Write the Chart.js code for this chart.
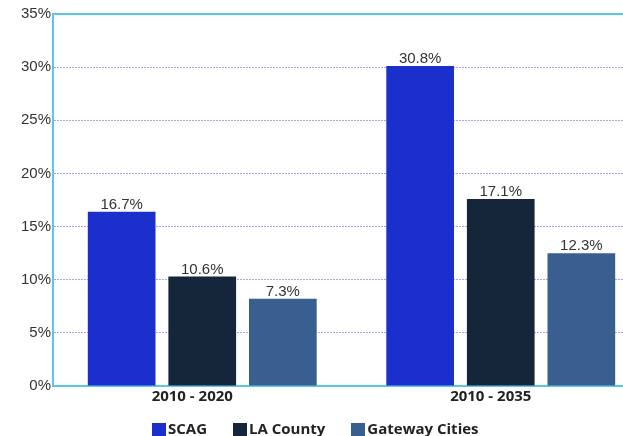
<!DOCTYPE html>
<html>
<head>
<meta charset="utf-8">
<script src="https://cdn.jsdelivr.net/npm/chart.js@4"></script>
<style>
  html, body { margin: 0; padding: 0; background: #fff; overflow: hidden; }
  #wrap { position: relative; width: 623px; height: 436px; overflow: hidden; }
  #box { position: absolute; left: 0; top: 0; width: 650px; height: 436px; }
  #legend { position: absolute; left: 152px; top: 420px; display: flex; gap: 26px;
            font: bold 15px "Open Sans"; line-height: 16px; color: #222; }
  .item { display: flex; align-items: flex-start; }
  .sw { width: 14px; height: 14px; margin: 3px 2px 0 0; }
</style>
</head>
<body>
<div id="wrap">
  <div id="box"><canvas id="chart"></canvas></div>
  <div id="legend"></div>
</div>
<script>
// categories and series
var periods = ['2010 - 2020', '2010 - 2035']
var seriesNames = ['SCAG', 'LA County', 'Gateway Cities']
var seriesColors = ['#1b2fcc', '#15263b', '#385f90']
// bar heights as drawn (%)
var scag = [16.4, 30.1]
var laCounty = [10.3, 17.6]
var gateway = [8.2, 12.5]
// printed labels above the bars
var scagText = ['16.7%', '30.8%']
var laCountyText = ['10.6%', '17.1%']
var gatewayText = ['7.3%', '12.3%']
var yTicks = [0, 5, 10, 15, 20, 25, 30, 35]

var values = [scag, laCounty, gateway]
var texts = [scagText, laCountyText, gatewayText]

var axisBlue = '#5ec6e8'

var barLabels = {
  id: 'barLabels',
  afterDatasetsDraw: function (chart) {
    var ctx = chart.ctx
    ctx.save()
    ctx.font = '15px "Liberation Sans", Arial'
    ctx.fillStyle = '#333'
    ctx.textAlign = 'center'
    ctx.textBaseline = 'alphabetic'
    chart.data.datasets.forEach(function (ds, i) {
      chart.getDatasetMeta(i).data.forEach(function (bar, j) {
        ctx.fillText(texts[i][j], bar.x, bar.y - 3)
      })
    })
    ctx.restore()
  }
}

var topLine = {
  id: 'topLine',
  beforeDatasetsDraw: function (chart) {
    var a = chart.chartArea
    var ctx = chart.ctx
    ctx.save()
    ctx.strokeStyle = axisBlue
    ctx.lineWidth = 2
    ctx.beginPath()
    ctx.moveTo(a.left, a.top)
    ctx.lineTo(a.right, a.top)
    ctx.stroke()
    ctx.restore()
  }
}

var ctx = document.getElementById('chart').getContext('2d')
var myChart = new Chart(ctx, {
  type: 'bar',
  data: {
    labels: periods,
    datasets: seriesNames.map(function (name, i) {
      return {
        label: name,
        data: values[i],
        backgroundColor: seriesColors[i],
        borderWidth: 0,
        categoryPercentage: 0.81,
        barPercentage: 0.84
      }
    })
  },
  options: {
    responsive: true,
    maintainAspectRatio: false,
    animation: false,
    layout: { padding: { top: 14, left: 0, right: 0, bottom: 0 } },
    plugins: {
      legend: { display: false },
      tooltip: { enabled: false }
    },
    scales: {
      x: {
        grid: { display: false, drawTicks: false },
        border: { display: true, color: axisBlue, width: 2 },
        ticks: {
          font: { family: 'Open Sans', weight: 'bold', size: 15 },
          color: '#222',
          padding: 2,
          labelOffset: -10
        },
        afterFit: function (s) { s.height = 50 }
      },
      y: {
        min: 0,
        max: 35,
        afterBuildTicks: function (s) {
          s.ticks = yTicks.map(function (v) { return { value: v } })
        },
        grid: {
          drawTicks: false,
          lineWidth: 1,
          color: function (c) {
            return (c.tick && (c.tick.value === 0 || c.tick.value === 35)) ? 'rgba(0,0,0,0)' : 'rgba(140,130,240,0.75)'
          }
        },
        border: { display: true, color: axisBlue, width: 2, dash: [2, 1] },
        ticks: {
          font: { family: 'Liberation Sans', size: 15 },
          color: '#333',
          padding: 2,
          callback: function (v) { return v + '%' }
        },
        afterFit: function (s) { s.width = 53 }
      }
    }
  },
  plugins: [barLabels, topLine]
})

// html legend built from the series arrays
var legend = document.getElementById('legend')
seriesNames.forEach(function (name, i) {
  var item = document.createElement('div')
  item.className = 'item'
  item.innerHTML = '<span class="sw" style="background:' + seriesColors[i] + '"></span>' + name
  legend.appendChild(item)
})
</script>
</body>
</html>
